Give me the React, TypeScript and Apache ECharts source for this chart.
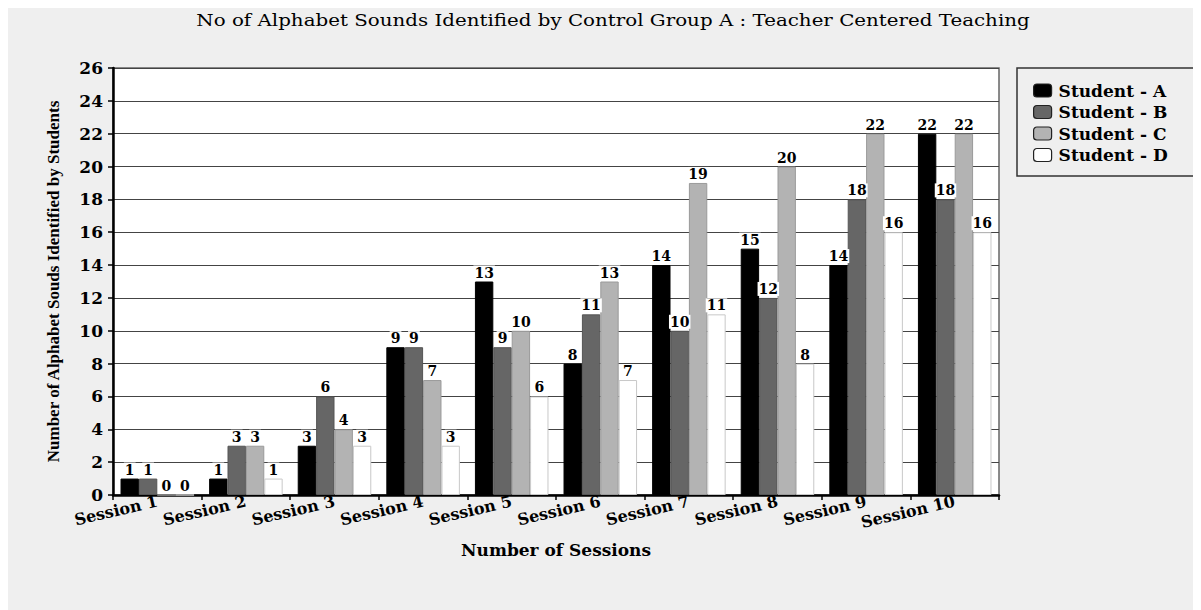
import React, { useEffect, useRef } from "react";
import * as echarts from "echarts";

const categories = ["Session 1", "Session 2", "Session 3", "Session 4", "Session 5", "Session 6", "Session 7", "Session 8", "Session 9", "Session 10"];
const studentA = [1, 1, 3, 9, 13, 8, 14, 15, 14, 22];
const studentB = [1, 3, 6, 9, 9, 11, 10, 12, 18, 18];
const studentC = [0, 3, 4, 7, 10, 13, 19, 20, 22, 22];
const studentD = [0, 1, 3, 3, 6, 7, 11, 8, 16, 16];
const seriesNames = ["Student - A", "Student - B", "Student - C", "Student - D"];
const fills = ["#000000", "#666666", "#b3b3b3", "#ffffff"];
const borders = ["#000000", "#555555", "#9a9a9a", "#c8c8c8"];
const titleText = "No of Alphabet Sounds Identified by Control Group A : Teacher Centered Teaching";

const SERIF_WIDE = "'DejaVu Serif', serif";
const SERIF_NARROW = "'Liberation Serif', serif";

export default function App() {
  const ref = useRef<HTMLDivElement>(null);
  useEffect(() => {
    if (!ref.current) return;
    const chart = echarts.init(ref.current, null, { renderer: "svg" });
    const dataSets = [studentA, studentB, studentC, studentD];
    chart.setOption({
      animation: false,
      backgroundColor: "#efefef",
      legend: {
        orient: "vertical",
        left: 1009,
        top: 60,
        padding: [14, 10, 14, 16],
        itemGap: 4.5,
        itemWidth: 18,
        itemHeight: 13,
        data: seriesNames,
        itemStyle: { borderColor: "#222", borderWidth: 1.2 },
        textStyle: { fontFamily: SERIF_WIDE, fontSize: 17, fontWeight: "bold", color: "#000", padding: [0, 0, 0, 2] },
      },
      graphic: [
        {
          type: "text",
          x: 605,
          y: 12,
          scaleX: 1.24,
          style: {
            text: titleText,
            fontFamily: SERIF_WIDE,
            fontSize: 16,
            fontWeight: "normal",
            fill: "#000",
            align: "center",
            verticalAlign: "middle",
          },
          silent: true,
        },
        {
          type: "rect",
          shape: { x: 1009, y: 60, width: 181, height: 108 },
          style: { fill: "none", stroke: "#333", lineWidth: 1.5 },
          silent: true,
        },
      ],
      grid: {
        left: 105,
        top: 60,
        right: 202,
        bottom: 115,
        show: true,
        backgroundColor: "#ffffff",
        borderColor: "#666",
        borderWidth: 1.5,
      },
      xAxis: {
        type: "category",
        data: categories,
        name: "Number of Sessions",
        nameLocation: "middle",
        nameGap: 46,
        nameTextStyle: { fontFamily: SERIF_WIDE, fontSize: 17, fontWeight: "bold", color: "#000" },
        axisLine: { lineStyle: { color: "#000", width: 2.5 } },
        axisTick: { show: true, length: 5, lineStyle: { color: "#000", width: 1.5 } },
        axisLabel: {
          interval: 0,
          rotate: 13,
          margin: 6,
          fontFamily: SERIF_WIDE,
          fontSize: 16,
          fontWeight: "bold",
          color: "#000",
          hideOverlap: false,
        },
      },
      yAxis: {
        type: "value",
        min: 0,
        max: 26,
        interval: 2,
        name: "Number of Alphabet Souds Identified by Students",
        nameLocation: "middle",
        nameGap: 51,
        nameTextStyle: { fontFamily: SERIF_NARROW, fontSize: 17, fontWeight: "bold", color: "#000" },
        axisLine: { show: true, lineStyle: { color: "#000", width: 2.5 } },
        axisTick: { show: true, length: 5, lineStyle: { color: "#000", width: 1.5 } },
        axisLabel: { margin: 10, fontFamily: SERIF_WIDE, fontSize: 17, fontWeight: "bold", color: "#000" },
        splitLine: { show: true, lineStyle: { color: "#444", width: 1.2 } },
      },
      series: dataSets.map((d, i) => ({
        name: seriesNames[i],
        type: "bar",
        data: d,
        barGap: "0%",
        barCategoryGap: "17%",
        itemStyle: { color: fills[i], borderColor: borders[i], borderWidth: 1 },
        label: {
          show: true,
          position: "top",
          distance: 2,
          fontFamily: SERIF_WIDE,
          fontSize: 14,
          fontWeight: "bold",
          color: "#000",
          backgroundColor: "#ffffff",
          padding: [0, 1, 0, 1],
        },
      })),
    });
    return () => chart.dispose();
  }, []);
  return <div ref={ref} style={{ width: 1193, height: 602 }} />;
}
